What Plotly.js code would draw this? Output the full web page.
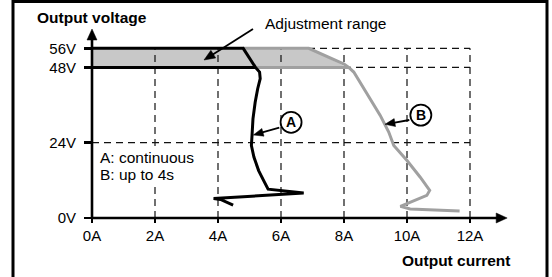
<!DOCTYPE html>
<html>
<head>
<meta charset="utf-8">
<script src="https://cdn.plot.ly/plotly-3.0.1.min.js"></script>
<style>html,body{margin:0;padding:0;background:#fff;}#chart{width:552px;height:277px;}</style>
</head>
<body>
<div id="chart"></div>
<script>
// ---- data (current in A, voltage in V) ----
const currentTicks = [0, 2, 4, 6, 8, 10, 12];
const currentLabels = ['0A', '2A', '4A', '6A', '8A', '10A', '12A'];
const voltageTicks = [0, 24, 48, 56];
const voltageLabels = ['0V', '24V', '48V', '56V'];
const gridVoltages = [24, 48, 56];

// Curve A (continuous) – black
const curveA_I = [0, 4.8, 5.19, 5.32, 5.34, 5.26, 5.18, 5.11, 5.08, 5.06, 5.14, 5.29, 5.45, 5.59, 6.72, 3.86, 4.08, 4.48];
const curveA_V = [56, 56, 48, 46.5, 44.4, 41.2, 36.9, 31.6, 26.3, 23.1, 19.4, 15.1, 11.9, 9.2, 8.0, 6.2, 5.9, 4.1];
const lowerA_I = [0, 5.19];
const lowerA_V = [48, 48];

// Curve B (up to 4s) – grey
const curveB_I = [4.8, 6.88, 8.0, 8.15, 8.31, 8.57, 8.89, 9.15, 9.42, 9.58, 10.0, 10.42, 10.72, 10.63, 9.79, 10.1, 11.67];
const curveB_V = [56, 56, 49.4, 48, 46.5, 42.3, 36.9, 32.7, 27.4, 23.1, 18.3, 13.0, 8.8, 7.2, 3.7, 2.9, 2.2];
const lowerB_I = [5.19, 8.15];
const lowerB_V = [48, 48];

// Adjustment range band
const band_I = [0, 6.88, 8.1, 0];
const band_V = [56, 56, 48, 48];

// ---- broken (compressed) scale above 48 V as in the original schematic ----
const UPPER = 0.757;
const mapV = v => (v == null ? null : (v <= 48 ? v : 48 + (v - 48) * UPPER));
const mv = arr => arr.map(mapV);

// grid built from tick arrays
const gx = [], gy = [];
currentTicks.slice(1).forEach(c => { gx.push(c, c, null); gy.push(0, mapV(56), null); });
gridVoltages.forEach(v => { gx.push(0, 12, null); gy.push(mapV(v), mapV(v), null); });

const FONT = 'Liberation Sans, Arial, Helvetica, sans-serif';
const GREY = '#a0a0a0';

const traces = [
  {x: band_I, y: mv(band_V), mode: 'lines', fill: 'toself', fillcolor: '#c8c8c8', line: {width: 0}, hoverinfo: 'skip'},
  {x: gx, y: gy, mode: 'lines', line: {color: '#111', width: 1.2, dash: '7px,5px'}, hoverinfo: 'skip', connectgaps: false},
  {x: lowerB_I, y: mv(lowerB_V), mode: 'lines', line: {color: GREY, width: 3}},
  {x: curveB_I, y: mv(curveB_V), mode: 'lines', line: {color: GREY, width: 3}},
  {x: lowerA_I, y: mv(lowerA_V), mode: 'lines', line: {color: '#000', width: 3}},
  {x: curveA_I, y: mv(curveA_V), mode: 'lines', line: {color: '#000', width: 3}}
];

// ---- geometry: plot area 60..522 px wide, 20..247 px high; origin at (92,218) px ----
const L = 60, R = 522, T = 20, B = 247;
const X0 = 92, Y0 = 218, pxA = 31.5, pxV = 3.138;
const xRange = [(L - X0) / pxA, (R - X0) / pxA];
const yRange = [(Y0 - B) / pxV, (Y0 - T) / pxV];
const toPX = px => (px - L) / (R - L);
const toPY = py => (B - py) / (B - T);

// arrow built from shapes anchored at the head; tail offset in px (y up)
function arrow(xa, ya, dx, dy, hl, hw, lw) {
  const len = Math.hypot(dx, dy);
  const ux = -dx / len, uy = -dy / len;
  const bx = -ux * hl, by = -uy * hl;
  const nx = -uy, ny = ux;
  const f = v => v.toFixed(2);
  const base = {type: 'path', xref: 'x', yref: 'y', xsizemode: 'pixel', ysizemode: 'pixel',
                xanchor: xa, yanchor: ya, layer: 'above'};
  return [
    Object.assign({}, base, {path: `M${f(dx)},${f(dy)}L${f(bx + ux * 1.5)},${f(by + uy * 1.5)}`,
                             line: {color: '#000', width: lw}}),
    Object.assign({}, base, {path: `M0,0L${f(bx + nx * hw / 2)},${f(by + ny * hw / 2)}L${f(bx - nx * hw / 2)},${f(by - ny * hw / 2)}Z`,
                             line: {color: '#000', width: 0.5}, fillcolor: '#000'})
  ];
}

const shapes = [
  {type: 'rect', xref: 'paper', yref: 'paper', x0: toPX(13), x1: toPX(547), y0: toPY(300), y1: toPY(1.5),
   line: {color: '#000', width: 3}, fillcolor: 'rgba(0,0,0,0)', layer: 'above'},
  // white backing behind the key text
  {type: 'rect', xref: 'paper', yref: 'paper', x0: toPX(97), x1: toPX(198), y0: toPY(184), y1: toPY(148),
   line: {width: 0}, fillcolor: '#fff', layer: 'above'},
  {type: 'circle', xref: 'x', yref: 'y', xsizemode: 'pixel', ysizemode: 'pixel',
   xanchor: 6.32, yanchor: 30.5, x0: -10.5, x1: 10.5, y0: -10.5, y1: 10.5,
   line: {color: '#000', width: 1.8}, fillcolor: '#fff', layer: 'above'},
  {type: 'circle', xref: 'x', yref: 'y', xsizemode: 'pixel', ysizemode: 'pixel',
   xanchor: 10.44, yanchor: 32.8, x0: -10.5, x1: 10.5, y0: -10.5, y1: 10.5,
   line: {color: '#000', width: 1.8}, fillcolor: '#fff', layer: 'above'}
]
  // axes with arrowheads
  .concat(arrow(13.18, 0, -13.18 * pxA, 0, 11, 10, 2.6))
  .concat(arrow(0, (Y0 - 29) / pxV, 0, -(Y0 - 29), 11, 10, 2.6))
  // annotation arrows
  .concat(arrow((204 - X0) / pxA, (Y0 - 60) / pxV, 49, 31, 11, 9, 1.8))
  .concat(arrow((253.3 - X0) / pxA, (Y0 - 135) / pxV, 26, 7.3, 10, 8, 1.8))
  .concat(arrow((385 - X0) / pxA, (Y0 - 124.3) / pxV, 24.3, 4.3, 10, 8, 1.8));

const layout = {
  width: 552, height: 277,
  margin: {l: L, r: 552 - R, t: T, b: 277 - B, pad: 0},
  paper_bgcolor: '#fff', plot_bgcolor: '#fff',
  showlegend: false, hovermode: false,
  font: {family: FONT, size: 15, color: '#000'},
  xaxis: {
    range: xRange, anchor: 'free', position: toPY(Y0),
    showgrid: false, zeroline: false, showline: false,
    tickmode: 'array', tickvals: currentTicks, ticktext: currentLabels,
    ticks: 'outside', ticklen: 4, tickwidth: 2.5, tickcolor: '#000',
    ticklabelstandoff: 0, tickfont: {family: FONT, size: 15}
  },
  yaxis: {
    range: yRange, anchor: 'free', position: toPX(X0),
    showgrid: false, zeroline: false, showline: false,
    tickmode: 'array', tickvals: voltageTicks.map(mapV), ticktext: voltageLabels,
    ticks: 'outside', ticklen: 8, tickwidth: 2.5, tickcolor: '#000',
    ticklabelstandoff: 5, tickfont: {family: FONT, size: 15}
  },
  shapes: shapes,
  annotations: [
    {xref: 'paper', yref: 'paper', x: toPX(35), y: toPY(18), xanchor: 'left', yanchor: 'middle', showarrow: false,
     text: '<b>Output voltage</b>', font: {family: FONT, size: 15.5}},
    {xref: 'paper', yref: 'paper', x: toPX(513), y: toPY(260), xanchor: 'right', yanchor: 'middle', showarrow: false,
     text: '<b>Output current</b>', font: {family: FONT, size: 15.5}},
    {xref: 'paper', yref: 'paper', x: toPX(263), y: toPY(23), xanchor: 'left', yanchor: 'middle', showarrow: false,
     text: 'Adjustment range', font: {family: FONT, size: 15.5}},
    {xref: 'paper', yref: 'paper', x: toPX(99), y: toPY(157.5), xanchor: 'left', yanchor: 'middle', showarrow: false,
     text: 'A: continuous', borderpad: 0, font: {family: FONT, size: 15.5}},
    {xref: 'paper', yref: 'paper', x: toPX(99), y: toPY(174), xanchor: 'left', yanchor: 'middle', showarrow: false,
     text: 'B: up to 4s', borderpad: 0, font: {family: FONT, size: 15.5}},
    {x: 6.32, y: 30.5, text: '<b>A</b>', showarrow: false, xanchor: 'center', yanchor: 'middle', font: {family: FONT, size: 14}},
    {x: 10.44, y: 32.8, text: '<b>B</b>', showarrow: false, xanchor: 'center', yanchor: 'middle', font: {family: FONT, size: 14}}
  ]
};

Plotly.newPlot('chart', traces, layout, {staticPlot: true, displayModeBar: false});
</script>
</body>
</html>
